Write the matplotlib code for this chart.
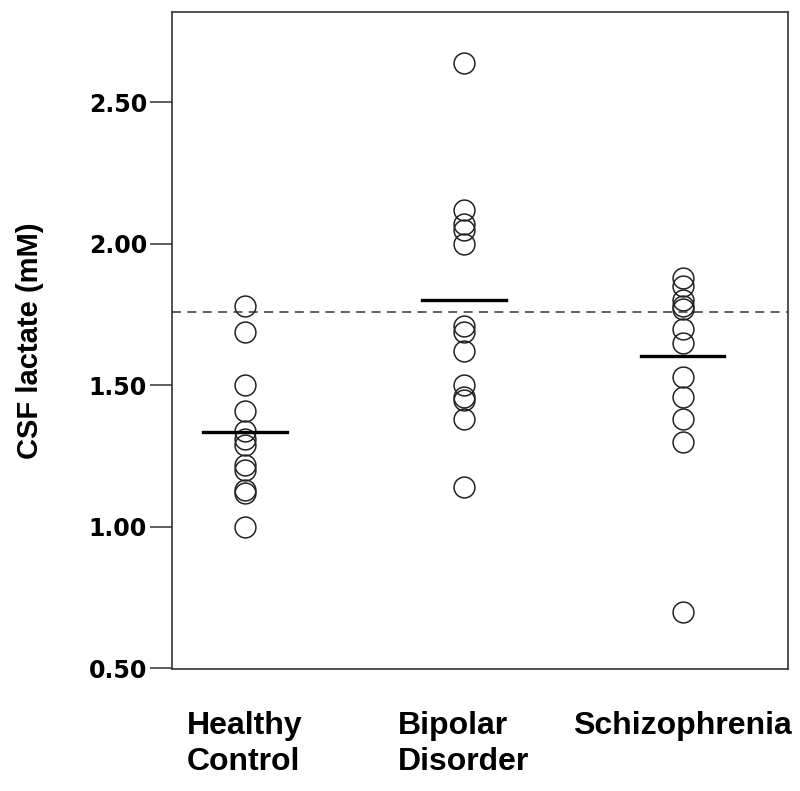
import numpy as np
import matplotlib
matplotlib.use("Agg")
import matplotlib.pyplot as plt

# values (mM)
groups = ["Healthy\nControl", "Bipolar\nDisorder", "Schizophrenia"]
healthy = [1.78, 1.69, 1.50, 1.41, 1.34, 1.31, 1.29, 1.22, 1.20, 1.13, 1.12, 1.00]
bipolar = [2.64, 2.12, 2.07, 2.05, 2.00, 1.71, 1.69, 1.62, 1.50, 1.46, 1.45, 1.38, 1.14]
schizo = [1.88, 1.85, 1.80, 1.78, 1.77, 1.70, 1.65, 1.53, 1.46, 1.38, 1.30, 0.70]
means = [1.335, 1.80, 1.605]
ref_line = 1.76
yticks = [0.50, 1.00, 1.50, 2.00, 2.50]

fig = plt.figure(figsize=(8, 7.91), dpi=100)
ax = fig.add_axes([0.215, 0.154, 0.77, 0.831])

for i, vals in enumerate([healthy, bipolar, schizo]):
    x = np.full(len(vals), i + 1.0)
    ax.plot(x, vals, 'o', ms=15, mfc='none', mec='#222222', mew=1.1, zorder=3)
    ax.plot([i + 1 - 0.19, i + 1 + 0.19], [means[i], means[i]], color='black', lw=2.4, zorder=4)

ax.axhline(ref_line, color='#555555', lw=1.3, ls=(0, (5, 3.5)), zorder=2)

ax.set_xlim(0.667, 3.48)
ax.set_ylim(0.497, 2.82)
ax.set_xticks([1, 2, 3])
ax.set_xticklabels(groups, fontfamily='Liberation Sans', fontweight='bold', fontsize=23,
                   multialignment='left', linespacing=1.25)
ax.tick_params(axis='x', length=0, pad=30)
ax.set_yticks(yticks)
ax.set_yticklabels(["%.2f" % v for v in yticks], fontfamily='DejaVu Sans', fontweight='bold', fontsize=17)
ax.tick_params(axis='y', length=16, width=1.1, color='#333333', pad=2)
for s in ax.spines.values():
    s.set_color('#333333')
    s.set_linewidth(1.2)

ax.set_ylabel("CSF lactate (mM)", fontfamily='Liberation Sans', fontweight='bold', fontsize=21, labelpad=32)

fig.savefig("out.png", dpi=100)
